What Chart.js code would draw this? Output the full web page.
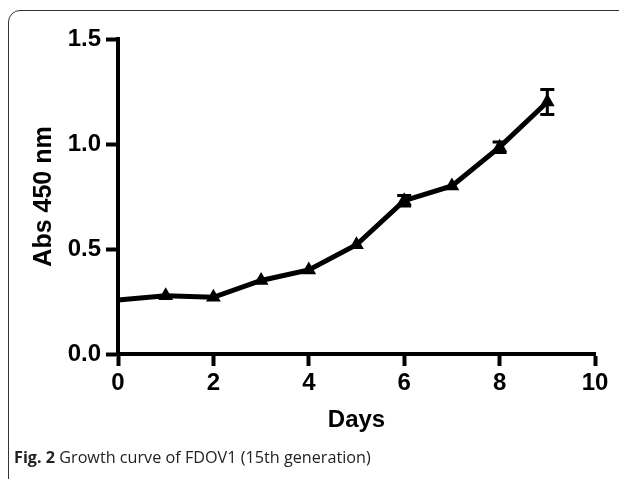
<!DOCTYPE html>
<html>
<head>
<meta charset="utf-8">
<script src="https://cdn.jsdelivr.net/npm/chart.js@4/dist/chart.umd.min.js"></script>
<style>
  body { margin: 0; background: #fff; }
  #wrap { position: relative; width: 619px; height: 479px; overflow: hidden; }
  #frame { position: absolute; left: 8px; top: 10px; width: 700px; height: 600px;
           border: 1.5px solid #333; border-radius: 12px; }
  #chart { position: absolute; left: 0; top: 0; }
  #caption { position: absolute; left: 14px; top: 446px; font-family: "Open Sans", sans-serif;
             font-size: 16.2px; color: #222; white-space: nowrap; }
  #caption b { font-weight: 700; }
</style>
</head>
<body>
<div id="wrap">
  <div id="frame"></div>
  <canvas id="chart" width="619" height="479"></canvas>
  <div id="caption"><b>Fig. 2</b> Growth curve of FDOV1 (15th generation)</div>
</div>
<script>
// данные
const days = [0, 1, 2, 3, 4, 5, 6, 7, 8, 9]
const absValues = [0.257, 0.277, 0.27, 0.35, 0.40, 0.52, 0.73, 0.80, 0.985, 1.20]
const absErrors = [0, 0, 0, 0, 0, 0, 0.025, 0, 0.025, 0.06]
const markerSizes = [0, 8.5, 8.5, 8.5, 8.5, 8.5, 8.5, 8.5, 8.5, 8.5]
const xTicks = [0, 2, 4, 6, 8, 10]
const yTicks = [0.0, 0.5, 1.0, 1.5]

const tickFont = { family: '"Liberation Sans Narrow", "Liberation Sans", Arial, sans-serif', size: 24, weight: 'bold' }

// рисуем "усики" погрешности через шкалы графика
const errorBars = {
    id: 'errorBars',
    afterDatasetsDraw(chart) {
        const ctx = chart.ctx
        const xs = chart.scales.x
        const ys = chart.scales.y
        ctx.save()
        ctx.strokeStyle = '#000'
        ctx.lineWidth = 3
        days.forEach((d, i) => {
            if (!absErrors[i]) return
            const x = xs.getPixelForValue(d)
            const top = ys.getPixelForValue(absValues[i] + absErrors[i])
            const bottom = ys.getPixelForValue(absValues[i] - absErrors[i])
            ctx.beginPath()
            ctx.moveTo(x, top); ctx.lineTo(x, bottom)
            ctx.moveTo(x - 7, top); ctx.lineTo(x + 7, top)
            ctx.moveTo(x - 7, bottom); ctx.lineTo(x + 7, bottom)
            ctx.stroke()
        })
        ctx.restore()
    }
}

const ctx = document.getElementById('chart').getContext('2d')

new Chart(ctx, {
    type: 'line',
    data: {
        datasets: [{
            data: days.map((d, i) => ({ x: d, y: absValues[i] })),
            borderColor: '#000',
            borderWidth: 5,
            backgroundColor: '#000',
            pointStyle: 'triangle',
            pointRadius: markerSizes,
            pointBorderWidth: 0,
            pointBackgroundColor: '#000',
            tension: 0,
            clip: false
        }]
    },
    options: {
        responsive: false,
        animation: false,
        events: [],
        layout: { padding: { left: 0, top: 39, right: 24, bottom: 39 } },
        plugins: { legend: { display: false }, tooltip: { enabled: false } },
        scales: {
            x: {
                type: 'linear',
                min: 0,
                max: 10,
                afterFit: s => { s.height = 440 - 354 },
                afterBuildTicks: s => { s.ticks = xTicks.map(v => ({ value: v })) },
                border: { color: '#000', width: 4 },
                grid: { drawOnChartArea: false, drawTicks: true, tickLength: 12, tickWidth: 4, tickColor: '#000' },
                ticks: { color: '#000', font: tickFont, padding: 3, maxRotation: 0 },
                title: {
                    display: true, text: 'Days', color: '#000',
                    font: { family: 'Liberation Sans, Arial, sans-serif', size: 24, weight: 'bold' },
                    padding: { top: 0, bottom: 5 }
                }
            },
            y: {
                min: 0,
                max: 1.5,
                afterFit: s => { s.width = 118 },
                afterBuildTicks: s => { s.ticks = yTicks.map(v => ({ value: v })) },
                border: { color: '#000', width: 4 },
                grid: { drawOnChartArea: false, drawTicks: true, tickLength: 12, tickWidth: 4, tickColor: '#000' },
                ticks: { color: '#000', font: tickFont, padding: 5, callback: v => v.toFixed(1) },
                title: {
                    display: true, text: 'Abs 450 nm', color: '#000',
                    font: { family: 'Liberation Sans, Arial, sans-serif', size: 25, weight: 'bold' },
                    padding: { top: 29, bottom: 0 }
                }
            }
        }
    },
    plugins: [errorBars]
})
</script>
</body>
</html>
